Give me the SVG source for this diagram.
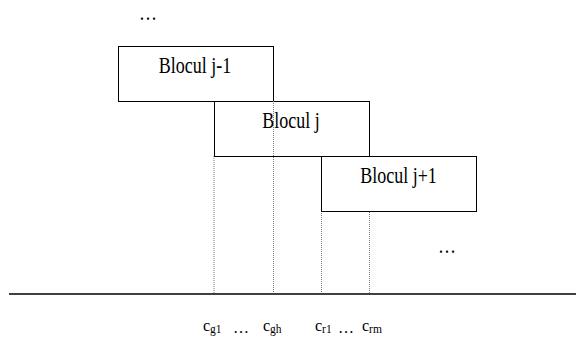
<svg xmlns="http://www.w3.org/2000/svg" width="576" height="338" viewBox="0 0 576 338">
<style>
.box{fill:#fff;stroke:#000;stroke-width:1}
.lbl{font-family:"Liberation Serif","Times New Roman",serif;font-size:18px;fill:#000;text-anchor:middle}
.sm{font-family:"Liberation Serif","Times New Roman",serif;font-size:16px;fill:#000}
.sub{font-size:11.5px}
.dot{stroke:#777;stroke-width:1;stroke-dasharray:1 1;fill:none}
.axis{stroke:#000;stroke-width:1.5}
</style>
<rect width="576" height="338" fill="#fff"/>
<g id="connectors">
<line class="dot" x1="214" y1="156" x2="214" y2="293"/>
<line class="dot" x1="321.5" y1="211" x2="321.5" y2="293"/>
<line class="dot" x1="369.5" y1="156" x2="369.5" y2="293"/>
<line class="axis" x1="9" y1="294" x2="576" y2="294"/>
</g>
<g id="ellipsis-top"><text class="lbl" transform="translate(148,20) scale(1,1.25)">…</text></g>
<g id="blocul-j-1">
<rect class="box" x="118.5" y="46.5" width="155" height="55"/>
<text class="lbl" transform="translate(195,73) scale(1,1.25)">Blocul j-1</text>
</g>
<g id="blocul-j">
<rect class="box" x="214.5" y="101.5" width="155" height="55"/>
<text class="lbl" transform="translate(291,128) scale(1,1.25)">Blocul j</text>
</g>
<g id="blocul-j1">
<rect class="box" x="321.5" y="156.5" width="155" height="55"/>
<text class="lbl" transform="translate(398.5,183) scale(1,1.25)">Blocul j+1</text>
</g>
<g id="connectors-over">
<line class="dot" x1="273.5" y1="101" x2="273.5" y2="293"/>
</g>
<g id="ellipsis-right"><text class="lbl" transform="translate(447,253) scale(1,1.25)">…</text></g>
<g id="labels">
<text class="sm" x="203" y="331">c<tspan class="sub" dy="2">g1</tspan></text>
<text class="sm" x="233" y="333">…</text>
<text class="sm" x="263" y="331">c<tspan class="sub" dy="2">gh</tspan></text>
<text class="sm" x="315" y="331">c<tspan class="sub" dy="2">r1</tspan></text>
<text class="sm" x="338" y="333">…</text>
<text class="sm" x="362" y="331">c<tspan class="sub" dy="2">rm</tspan></text>
</g>
</svg>
